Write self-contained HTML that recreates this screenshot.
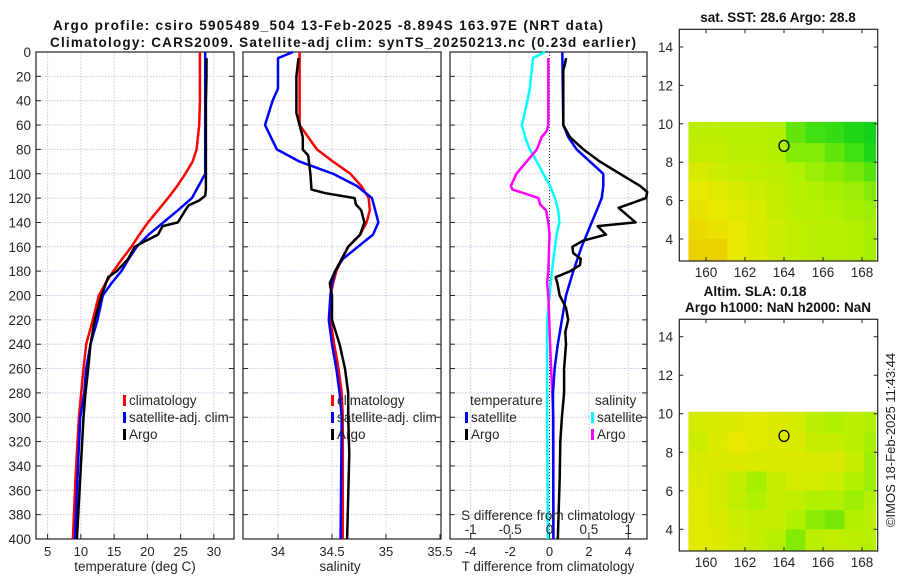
<!DOCTYPE html>
<html><head><meta charset="utf-8"><style>
html,body{margin:0;padding:0;background:#fff;}
svg{display:block;font-family:"Liberation Sans",sans-serif;}
</style></head><body>
<svg id="fig" width="900" height="580" viewBox="0 0 900 580" xmlns="http://www.w3.org/2000/svg">
<g font-weight="bold" font-size="13.5" fill="#111">
<text x="53" y="30" textLength="550">Argo profile: csiro 5905489_504 13-Feb-2025 -8.894S 163.97E (NRT data)</text>
<text x="50" y="47" textLength="586">Climatology: CARS2009. Satellite-adj clim: synTS_20250213.nc (0.23d earlier)</text>
<text x="778" y="22" text-anchor="middle">sat. SST: 28.6 Argo: 28.8</text>
<text x="755" y="296" text-anchor="middle">Altim. SLA: 0.18</text>
<text x="778" y="312" text-anchor="middle">Argo h1000: NaN h2000: NaN</text>
</g>
<text transform="translate(895,440) rotate(-90)" text-anchor="middle" font-size="13" fill="#222">©IMOS 18-Feb-2025 11:43:44</text>
<g id="layer"></g>
</svg>
<script>
// ---- shared depth axis
const depthTicks = [0,20,40,60,80,100,120,140,160,180,200,220,240,260,280,300,320,340,360,380,400];
// ---- temperature panel
const tempTicks = [5,10,15,20,25,30];
const climDepth = [0,20,40,60,80,90,100,110,120,130,140,150,160,170,180,190,200,220,240,260,280,300,350,400];
const climTemp = [27.9,27.9,27.9,27.8,27.4,26.8,25.7,24.5,23.1,21.6,20.1,18.8,17.6,16.2,14.9,13.7,12.7,11.8,10.8,10.4,10.05,9.7,9.2,8.8];
const satTemp = [28.7,28.7,28.7,28.7,28.7,28.7,28.7,27.7,26.7,24.6,22.4,20.2,18.4,17.2,16.1,14.6,13.3,12.5,11.45,10.8,10.5,9.9,9.5,9.1];
const argoDepth = [5,20,40,60,80,100,113,118,122,126,130,140,143,150,155,160,170,180,185,200,220,240,260,280,300,350,400];
const argoTemp = [28.9,28.9,28.8,28.8,28.8,28.8,28.8,28.7,27.8,26.2,25.7,24.6,22.3,21.6,19.8,18.1,17.1,15.4,14.1,13.1,12.1,11.45,11.1,10.7,10.4,9.9,9.4];
// ---- salinity panel
const salTicks = [34,34.5,35,35.5];
const climSal = [34.2,34.2,34.2,34.2,34.36,34.51,34.67,34.77,34.84,34.85,34.82,34.76,34.65,34.59,34.54,34.51,34.485,34.485,34.52,34.56,34.59,34.6,34.6,34.6];
const satSalDepth = [0,5,30,40,60,80,90,100,110,120,140,150,160,170,180,190,200,220,240,260,280,300,400];
const satSal = [34.14,34.0,34.0,33.95,33.88,33.99,34.2,34.51,34.73,34.87,34.93,34.88,34.74,34.6,34.53,34.5,34.485,34.47,34.5,34.54,34.57,34.59,34.58];
const argoSalDepth = [5,20,50,60,70,80,85,100,113,116,120,125,130,140,150,160,170,180,190,200,220,240,260,280,300,330,400];
const argoSal = [34.19,34.17,34.17,34.2,34.23,34.23,34.28,34.3,34.31,34.44,34.71,34.72,34.77,34.8,34.76,34.65,34.59,34.53,34.48,34.5,34.5,34.57,34.62,34.65,34.65,34.66,34.64];
// ---- difference panel
const tDiffTicks = [-4,-2,0,2,4];
const sDiffTicks = [-1,-0.5,0,0.5,1];
const satTDiffDepth = [0,60,70,80,90,100,110,120,130,140,150,160,180,200,220,240,260,280,400];
const satTDiff = [0.65,0.7,0.95,1.38,2.05,2.73,2.73,2.65,2.4,2.14,1.89,1.63,1.21,0.84,0.63,0.42,0.26,0.18,0.2];
const argoTDiffDepth = [5,10,15,60,70,80,90,100,110,115,120,128,140,143,150,155,160,165,170,175,180,185,190,200,210,220,230,240,260,280,300,320,350,400];
const argoTDiff = [0.84,0.78,0.7,0.7,1.04,1.72,2.56,3.58,4.6,4.96,4.9,3.51,4.37,2.44,2.87,1.7,1.16,1.2,1.59,1.55,1.06,0.31,0.4,0.52,0.84,0.95,0.8,0.84,0.74,0.74,0.63,0.55,0.52,0.42];
const satSDiffDepth = [0,5,30,40,60,70,80,90,100,110,120,130,140,150,160,180,200,220,300,400];
const satSDiff = [-0.057,-0.21,-0.25,-0.28,-0.35,-0.31,-0.25,-0.16,-0.08,0.006,0.07,0.11,0.125,0.09,0.07,0.03,0,-0.03,-0.03,-0.02];
const argoSDiffDepth = [5,60,65,70,80,90,100,110,113,115,120,125,130,140,150,180,190,200,260,300,400];
const argoSDiff = [-0.015,-0.015,-0.035,-0.1,-0.16,-0.29,-0.42,-0.49,-0.47,-0.37,-0.14,-0.12,-0.045,-0.015,0,-0.015,-0.03,-0.015,0.02,0.05,0.05];
// ---- maps
const lonTicks = [160,162,164,166,168];
const latTicks = [4,6,8,10,12,14];
const sstGrid = [
 [2.2,2.2,2.1,2.1,2.0,1.3,1.0,0.8,0.5,0.3],
 [2.3,2.3,2.2,2.2,2.0,1.6,1.6,1.3,1.0,0.5],
 [2.7,2.5,2.4,2.3,2.2,2.0,1.8,1.7,1.5,1.2],
 [3.0,2.9,2.7,2.5,2.3,2.1,2.0,1.9,1.8,1.6],
 [3.1,3.0,2.9,2.7,2.4,2.2,2.1,2.0,1.9,1.8],
 [3.2,3.1,3.0,2.7,2.5,2.3,2.2,2.1,2.0,1.9],
 [3.3,3.3,3.0,2.8,2.5,2.3,2.2,2.1,2.0,1.9]];
const slaGrid = [
 [2.6,2.7,2.8,2.9,2.8,2.6,2.2,2.0,2.2,2.0],
 [2.5,2.8,3.0,2.9,2.8,2.7,2.4,2.4,2.2,1.9],
 [2.7,2.8,2.8,2.7,2.8,2.8,2.7,2.8,2.4,1.8],
 [2.8,2.6,2.3,1.9,2.4,2.6,2.6,2.5,2.0,1.8],
 [2.9,2.6,2.3,2.0,2.4,2.3,2.0,2.0,1.8,2.0],
 [2.9,2.7,2.5,2.4,2.4,2.0,1.7,1.5,2.0,2.2],
 [2.9,2.8,2.6,2.4,2.1,1.6,2.2,2.3,2.2,2.1]];
const gridLatEdges = [10.1,9,8,7,6,5,4,2.85];
const gridLon0 = [159.1];
const argoPos = [164.0, 8.85];

const NS = "http://www.w3.org/2000/svg";
const layer = document.getElementById('layer');
function mk(tag, attrs, parent){const e=document.createElementNS(NS,tag);for(const k in attrs)e.setAttribute(k,attrs[k]);(parent||layer).appendChild(e);return e;}
const Y0=52, Y1=539;
const yD = d => Y0 + d*(Y1-Y0)/400;

function panel(name, x0, x1, xs, ticks, fmt){
  const g=mk('g',{});
  
  
  for(const t of ticks){const x=xs(t); if(x>x0+1&&x<x1-1) mk('line',{x1:x,x2:x,y1:Y0,y2:Y1,stroke:'#c4c8e6','stroke-width':1,'stroke-dasharray':'1.5,1.5'},g);}
  for(const d of depthTicks){const y=yD(d); if(d>0&&d<400) mk('line',{x1:x0,x2:x1,y1:y,y2:y,stroke:'#c4c8e6','stroke-width':1,'stroke-dasharray':'1.5,1.5'},g);
    mk('line',{x1:x0,x2:x0+5,y1:y,y2:y,stroke:'#222'},g); mk('line',{x1:x1-5,x2:x1,y1:y,y2:y,stroke:'#222'},g);}
  for(const t of ticks){const x=xs(t); mk('line',{x1:x,x2:x,y1:Y1,y2:Y1-5,stroke:'#222'},g);
    if(fmt){const tx=mk('text',{x:x,y:556,'text-anchor':'middle','font-size':13,fill:'#262626'},g);tx.textContent=fmt(t);
      
      }}
  mk('rect',{x:x0,y:Y0,width:x1-x0,height:Y1-Y0,fill:'none',stroke:'#222','stroke-width':1.2},g);
  return g;
}
function line(g, xs, vals, depths, color, w, nm){
  const p=vals.map((v,i)=>xs(v).toFixed(1)+','+yD(depths[i]).toFixed(1)).join(' ');
  const e=mk('polyline',{points:p,fill:'none',stroke:color,'stroke-width':w,'stroke-linejoin':'round'},g);
  
  
}
function txt(g,x,y,s,size,anchor,nm){const t=mk('text',{x:x,y:y,'font-size':size,fill:'#262626','text-anchor':anchor||'start'},g);t.textContent=s;
  
  return t;}
function legend(g,x,y,color,label,nm){mk('rect',{x:x,y:y-10,width:3,height:11,fill:color},g);const t=txt(g,x+6,y,label,13.5,'start',nm);}

// depth labels
for(const d of depthTicks){const t=txt(layer,31,yD(d)+5,String(d),13.5,'end','y-tick-label');}

// panel 1
const xT = t => 47.6+(t-5)*6.65;
const g1=panel('temperature-panel',36,234,xT,tempTicks,t=>String(t));
line(g1,xT,climTemp,climDepth,'#f00',2.5,'climatology-temp-line');
line(g1,xT,satTemp,climDepth,'#00f',2.5,'satellite-temp-line');
line(g1,xT,argoTemp,argoDepth,'#000',2.5,'argo-temp-line');
txt(g1,135,571,'temperature (deg C)',13.5,'middle','x-axis-title-temperature');
legend(g1,123,405,'#f00','climatology','legend-climatology');
legend(g1,123,422,'#00f','satellite-adj. clim','legend-satellite');
legend(g1,123,439,'#000','Argo','legend-argo');

// panel 2
const xS = s => 278+(s-34)*108;
const g2=panel('salinity-panel',243,441,xS,salTicks,t=>String(t));
line(g2,xS,climSal,climDepth,'#f00',2.5,'climatology-sal-line');
line(g2,xS,satSal,satSalDepth,'#00f',2.5,'satellite-sal-line');
line(g2,xS,argoSal,argoSalDepth,'#000',2.5,'argo-sal-line');
txt(g2,340,571,'salinity',13.5,'middle','x-axis-title-salinity');
legend(g2,331,405,'#f00','climatology','legend-climatology-2');
legend(g2,331,422,'#00f','satellite-adj. clim','legend-satellite-2');
legend(g2,331,439,'#000','Argo','legend-argo-2');

// panel 3
const xTD = v => 549.5+v*19.7;
const xSD = v => 549.5+v*78.8;
const g3=panel('difference-panel',450,647,xTD,tDiffTicks,t=>String(t));
mk('line',{x1:xTD(0),x2:xTD(0),y1:Y0,y2:Y1,stroke:'#333','stroke-width':1,'stroke-dasharray':'1,2'},g3);
line(g3,xSD,satSDiff,satSDiffDepth,'#0ff',2.5,'satellite-sal-diff-line');
line(g3,xSD,argoSDiff,argoSDiffDepth,'#f0f',2.5,'argo-sal-diff-line');
line(g3,xTD,satTDiff,satTDiffDepth,'#00f',2.5,'satellite-temp-diff-line');
line(g3,xTD,argoTDiff,argoTDiffDepth,'#000',2.5,'argo-temp-diff-line');
for(const s of sDiffTicks){txt(g3,xSD(s),534,String(s),13.5,'middle','s-diff-tick-label');}
txt(g3,548,520,'S difference from climatology',13.5,'middle','s-diff-axis-title');
txt(g3,548,571,'T difference from climatology',13.5,'middle','t-diff-axis-title');
txt(g3,470,405,'temperature',13.5,'start','legend-header-temperature');
txt(g3,595,405,'salinity',13.5,'start','legend-header-salinity');
legend(g3,465,422,'#00f','satellite','legend-temp-satellite');
legend(g3,465,439,'#000','Argo','legend-temp-argo');
legend(g3,591,422,'#0ff','satellite','legend-sal-satellite');
legend(g3,591,439,'#f0f','Argo','legend-sal-argo');

// maps
const stops=[[0,204,32],[64,224,16],[176,240,0],[232,232,0],[240,160,0]];
function col(v){v=Math.max(0,Math.min(4,v));const i=Math.min(3,Math.floor(v)),f=v-i,a=stops[i],b=stops[i+1];
  return 'rgb('+a.map((c,k)=>Math.round(c+(b[k]-c)*f)).join(',')+')';}
function mapPanel(name, top, bottom, lat14y, lat4y, grid){
  const g=mk('g',{});
  
  
  const x0=679.3,x1=877.7;
  const xL = l => 706+(l-160)*19.5;
  const yL = l => lat4y+(l-4)*(lat14y-lat4y)/10;
  grid.forEach((row,r)=>row.forEach((v,c)=>{
    const xa=xL(gridLon0[0]+c), xb=Math.min(xL(gridLon0[0]+c+1),875.7);
    const ya=yL(gridLatEdges[r]), yb=Math.min(yL(gridLatEdges[r+1]),bottom);
    const e=mk('rect',{x:xa.toFixed(1),y:ya.toFixed(1),width:(xb-xa+0.5).toFixed(1),height:(yb-ya+0.5).toFixed(1),fill:col(v)},g);
    
    
  }));
  const c=mk('ellipse',{cx:xL(argoPos[0]),cy:yL(argoPos[1]),rx:5,ry:5.5,fill:'none',stroke:'#000','stroke-width':1.3},g);
  
  
  mk('rect',{x:x0,y:top,width:x1-x0,height:bottom-top,fill:'none',stroke:'#222','stroke-width':1.2},g);
  for(const l of latTicks){const y=yL(l);mk('line',{x1:x0,x2:x0+4,y1:y,y2:y,stroke:'#222'},g);mk('line',{x1:x1-4,x2:x1,y1:y,y2:y,stroke:'#222'},g);
    txt(g,673,y+5,String(l),13.5,'end','map-lat-tick-label');}
  for(const l of lonTicks){const x=xL(l);mk('line',{x1:x,x2:x,y1:bottom,y2:bottom-4,stroke:'#222'},g);mk('line',{x1:x,x2:x,y1:top,y2:top+4,stroke:'#222'},g);
    txt(g,x,bottom+16,String(l),13.5,'middle','map-lon-tick-label');}
}
mapPanel('sst-map',29.3,261,47,239,sstGrid);
mapPanel('sla-map',319.3,551,336.7,529.3,slaGrid);
</script>
</body></html>
